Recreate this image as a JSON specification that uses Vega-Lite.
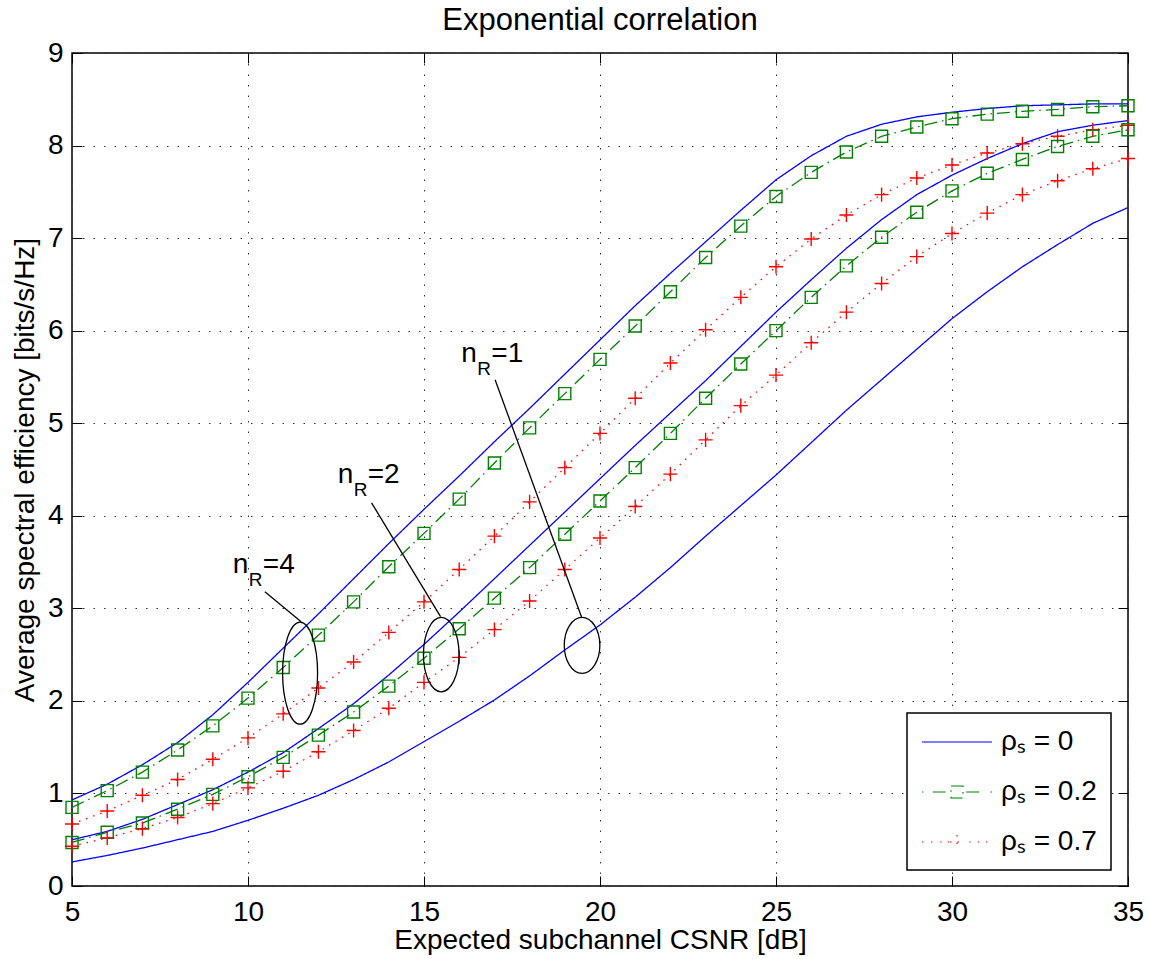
{
  "$schema": "https://vega.github.io/schema/vega-lite/v6.json",
  "width": 1056,
  "height": 833,
  "autosize": {"type": "none"},
  "padding": {"left": 72, "top": 53, "right": 21, "bottom": 73},
  "background": "white",
  "title": {"text": "Exponential correlation", "fontSize": 31, "font": "Liberation Sans", "fontWeight": "normal", "color": "black", "anchor": "middle", "baseline": "alphabetic", "offset": -22},
  "config": {
    "view": {"stroke": "black", "strokeWidth": 1.5},
    "font": "Liberation Sans",
    "axis": {"labelFont": "Liberation Sans", "titleFont": "Liberation Sans", "labelColor": "black", "titleColor": "black", "tickColor": "black", "domain": false},
    "legend": {"strokeColor": "black", "strokeWidth": 1.5, "fillColor": "white"}
  },
  "datasets": {
    "curves": [
      {"snr":5,"se":0.93,"nR":4,"rho":"0"},{"snr":6,"se":1.10,"nR":4,"rho":"0"},{"snr":7,"se":1.31,"nR":4,"rho":"0"},{"snr":8,"se":1.55,"nR":4,"rho":"0"},{"snr":9,"se":1.85,"nR":4,"rho":"0"},{"snr":10,"se":2.20,"nR":4,"rho":"0"},{"snr":11,"se":2.57,"nR":4,"rho":"0"},{"snr":12,"se":2.94,"nR":4,"rho":"0"},{"snr":13,"se":3.32,"nR":4,"rho":"0"},{"snr":14,"se":3.70,"nR":4,"rho":"0"},{"snr":15,"se":4.07,"nR":4,"rho":"0"},{"snr":16,"se":4.43,"nR":4,"rho":"0"},{"snr":17,"se":4.80,"nR":4,"rho":"0"},{"snr":18,"se":5.16,"nR":4,"rho":"0"},{"snr":19,"se":5.53,"nR":4,"rho":"0"},{"snr":20,"se":5.90,"nR":4,"rho":"0"},{"snr":21,"se":6.27,"nR":4,"rho":"0"},{"snr":22,"se":6.62,"nR":4,"rho":"0"},{"snr":23,"se":6.96,"nR":4,"rho":"0"},{"snr":24,"se":7.30,"nR":4,"rho":"0"},{"snr":25,"se":7.63,"nR":4,"rho":"0"},{"snr":26,"se":7.89,"nR":4,"rho":"0"},{"snr":27,"se":8.10,"nR":4,"rho":"0"},{"snr":28,"se":8.23,"nR":4,"rho":"0"},{"snr":29,"se":8.31,"nR":4,"rho":"0"},{"snr":30,"se":8.36,"nR":4,"rho":"0"},{"snr":31,"se":8.40,"nR":4,"rho":"0"},{"snr":32,"se":8.43,"nR":4,"rho":"0"},{"snr":33,"se":8.44,"nR":4,"rho":"0"},{"snr":34,"se":8.45,"nR":4,"rho":"0"},{"snr":35,"se":8.45,"nR":4,"rho":"0"},
      {"snr":5,"se":0.85,"nR":4,"rho":"0.2"},{"snr":6,"se":1.03,"nR":4,"rho":"0.2"},{"snr":7,"se":1.23,"nR":4,"rho":"0.2"},{"snr":8,"se":1.47,"nR":4,"rho":"0.2"},{"snr":9,"se":1.73,"nR":4,"rho":"0.2"},{"snr":10,"se":2.03,"nR":4,"rho":"0.2"},{"snr":11,"se":2.36,"nR":4,"rho":"0.2"},{"snr":12,"se":2.71,"nR":4,"rho":"0.2"},{"snr":13,"se":3.07,"nR":4,"rho":"0.2"},{"snr":14,"se":3.45,"nR":4,"rho":"0.2"},{"snr":15,"se":3.81,"nR":4,"rho":"0.2"},{"snr":16,"se":4.18,"nR":4,"rho":"0.2"},{"snr":17,"se":4.57,"nR":4,"rho":"0.2"},{"snr":18,"se":4.95,"nR":4,"rho":"0.2"},{"snr":19,"se":5.32,"nR":4,"rho":"0.2"},{"snr":20,"se":5.69,"nR":4,"rho":"0.2"},{"snr":21,"se":6.05,"nR":4,"rho":"0.2"},{"snr":22,"se":6.42,"nR":4,"rho":"0.2"},{"snr":23,"se":6.79,"nR":4,"rho":"0.2"},{"snr":24,"se":7.13,"nR":4,"rho":"0.2"},{"snr":25,"se":7.45,"nR":4,"rho":"0.2"},{"snr":26,"se":7.71,"nR":4,"rho":"0.2"},{"snr":27,"se":7.93,"nR":4,"rho":"0.2"},{"snr":28,"se":8.10,"nR":4,"rho":"0.2"},{"snr":29,"se":8.20,"nR":4,"rho":"0.2"},{"snr":30,"se":8.29,"nR":4,"rho":"0.2"},{"snr":31,"se":8.34,"nR":4,"rho":"0.2"},{"snr":32,"se":8.37,"nR":4,"rho":"0.2"},{"snr":33,"se":8.39,"nR":4,"rho":"0.2"},{"snr":34,"se":8.42,"nR":4,"rho":"0.2"},{"snr":35,"se":8.43,"nR":4,"rho":"0.2"},
      {"snr":5,"se":0.67,"nR":4,"rho":"0.7"},{"snr":6,"se":0.81,"nR":4,"rho":"0.7"},{"snr":7,"se":0.98,"nR":4,"rho":"0.7"},{"snr":8,"se":1.15,"nR":4,"rho":"0.7"},{"snr":9,"se":1.37,"nR":4,"rho":"0.7"},{"snr":10,"se":1.60,"nR":4,"rho":"0.7"},{"snr":11,"se":1.86,"nR":4,"rho":"0.7"},{"snr":12,"se":2.14,"nR":4,"rho":"0.7"},{"snr":13,"se":2.42,"nR":4,"rho":"0.7"},{"snr":14,"se":2.74,"nR":4,"rho":"0.7"},{"snr":15,"se":3.07,"nR":4,"rho":"0.7"},{"snr":16,"se":3.42,"nR":4,"rho":"0.7"},{"snr":17,"se":3.78,"nR":4,"rho":"0.7"},{"snr":18,"se":4.15,"nR":4,"rho":"0.7"},{"snr":19,"se":4.52,"nR":4,"rho":"0.7"},{"snr":20,"se":4.89,"nR":4,"rho":"0.7"},{"snr":21,"se":5.27,"nR":4,"rho":"0.7"},{"snr":22,"se":5.65,"nR":4,"rho":"0.7"},{"snr":23,"se":6.01,"nR":4,"rho":"0.7"},{"snr":24,"se":6.36,"nR":4,"rho":"0.7"},{"snr":25,"se":6.69,"nR":4,"rho":"0.7"},{"snr":26,"se":6.99,"nR":4,"rho":"0.7"},{"snr":27,"se":7.25,"nR":4,"rho":"0.7"},{"snr":28,"se":7.47,"nR":4,"rho":"0.7"},{"snr":29,"se":7.65,"nR":4,"rho":"0.7"},{"snr":30,"se":7.79,"nR":4,"rho":"0.7"},{"snr":31,"se":7.92,"nR":4,"rho":"0.7"},{"snr":32,"se":8.02,"nR":4,"rho":"0.7"},{"snr":33,"se":8.10,"nR":4,"rho":"0.7"},{"snr":34,"se":8.17,"nR":4,"rho":"0.7"},{"snr":35,"se":8.22,"nR":4,"rho":"0.7"},
      {"snr":5,"se":0.50,"nR":2,"rho":"0"},{"snr":6,"se":0.59,"nR":2,"rho":"0"},{"snr":7,"se":0.72,"nR":2,"rho":"0"},{"snr":8,"se":0.88,"nR":2,"rho":"0"},{"snr":9,"se":1.04,"nR":2,"rho":"0"},{"snr":10,"se":1.23,"nR":2,"rho":"0"},{"snr":11,"se":1.44,"nR":2,"rho":"0"},{"snr":12,"se":1.70,"nR":2,"rho":"0"},{"snr":13,"se":1.97,"nR":2,"rho":"0"},{"snr":14,"se":2.28,"nR":2,"rho":"0"},{"snr":15,"se":2.61,"nR":2,"rho":"0"},{"snr":16,"se":2.96,"nR":2,"rho":"0"},{"snr":17,"se":3.32,"nR":2,"rho":"0"},{"snr":18,"se":3.68,"nR":2,"rho":"0"},{"snr":19,"se":4.04,"nR":2,"rho":"0"},{"snr":20,"se":4.40,"nR":2,"rho":"0"},{"snr":21,"se":4.76,"nR":2,"rho":"0"},{"snr":22,"se":5.11,"nR":2,"rho":"0"},{"snr":23,"se":5.46,"nR":2,"rho":"0"},{"snr":24,"se":5.83,"nR":2,"rho":"0"},{"snr":25,"se":6.20,"nR":2,"rho":"0"},{"snr":26,"se":6.55,"nR":2,"rho":"0"},{"snr":27,"se":6.89,"nR":2,"rho":"0"},{"snr":28,"se":7.20,"nR":2,"rho":"0"},{"snr":29,"se":7.47,"nR":2,"rho":"0"},{"snr":30,"se":7.68,"nR":2,"rho":"0"},{"snr":31,"se":7.86,"nR":2,"rho":"0"},{"snr":32,"se":8.02,"nR":2,"rho":"0"},{"snr":33,"se":8.15,"nR":2,"rho":"0"},{"snr":34,"se":8.22,"nR":2,"rho":"0"},{"snr":35,"se":8.27,"nR":2,"rho":"0"},
      {"snr":5,"se":0.47,"nR":2,"rho":"0.2"},{"snr":6,"se":0.58,"nR":2,"rho":"0.2"},{"snr":7,"se":0.68,"nR":2,"rho":"0.2"},{"snr":8,"se":0.83,"nR":2,"rho":"0.2"},{"snr":9,"se":0.99,"nR":2,"rho":"0.2"},{"snr":10,"se":1.18,"nR":2,"rho":"0.2"},{"snr":11,"se":1.39,"nR":2,"rho":"0.2"},{"snr":12,"se":1.63,"nR":2,"rho":"0.2"},{"snr":13,"se":1.88,"nR":2,"rho":"0.2"},{"snr":14,"se":2.16,"nR":2,"rho":"0.2"},{"snr":15,"se":2.46,"nR":2,"rho":"0.2"},{"snr":16,"se":2.78,"nR":2,"rho":"0.2"},{"snr":17,"se":3.11,"nR":2,"rho":"0.2"},{"snr":18,"se":3.44,"nR":2,"rho":"0.2"},{"snr":19,"se":3.80,"nR":2,"rho":"0.2"},{"snr":20,"se":4.16,"nR":2,"rho":"0.2"},{"snr":21,"se":4.52,"nR":2,"rho":"0.2"},{"snr":22,"se":4.89,"nR":2,"rho":"0.2"},{"snr":23,"se":5.27,"nR":2,"rho":"0.2"},{"snr":24,"se":5.64,"nR":2,"rho":"0.2"},{"snr":25,"se":6.00,"nR":2,"rho":"0.2"},{"snr":26,"se":6.36,"nR":2,"rho":"0.2"},{"snr":27,"se":6.70,"nR":2,"rho":"0.2"},{"snr":28,"se":7.01,"nR":2,"rho":"0.2"},{"snr":29,"se":7.28,"nR":2,"rho":"0.2"},{"snr":30,"se":7.51,"nR":2,"rho":"0.2"},{"snr":31,"se":7.70,"nR":2,"rho":"0.2"},{"snr":32,"se":7.85,"nR":2,"rho":"0.2"},{"snr":33,"se":7.99,"nR":2,"rho":"0.2"},{"snr":34,"se":8.10,"nR":2,"rho":"0.2"},{"snr":35,"se":8.17,"nR":2,"rho":"0.2"},
      {"snr":5,"se":0.43,"nR":2,"rho":"0.7"},{"snr":6,"se":0.52,"nR":2,"rho":"0.7"},{"snr":7,"se":0.62,"nR":2,"rho":"0.7"},{"snr":8,"se":0.74,"nR":2,"rho":"0.7"},{"snr":9,"se":0.89,"nR":2,"rho":"0.7"},{"snr":10,"se":1.06,"nR":2,"rho":"0.7"},{"snr":11,"se":1.24,"nR":2,"rho":"0.7"},{"snr":12,"se":1.45,"nR":2,"rho":"0.7"},{"snr":13,"se":1.68,"nR":2,"rho":"0.7"},{"snr":14,"se":1.92,"nR":2,"rho":"0.7"},{"snr":15,"se":2.20,"nR":2,"rho":"0.7"},{"snr":16,"se":2.47,"nR":2,"rho":"0.7"},{"snr":17,"se":2.77,"nR":2,"rho":"0.7"},{"snr":18,"se":3.08,"nR":2,"rho":"0.7"},{"snr":19,"se":3.42,"nR":2,"rho":"0.7"},{"snr":20,"se":3.76,"nR":2,"rho":"0.7"},{"snr":21,"se":4.10,"nR":2,"rho":"0.7"},{"snr":22,"se":4.45,"nR":2,"rho":"0.7"},{"snr":23,"se":4.82,"nR":2,"rho":"0.7"},{"snr":24,"se":5.19,"nR":2,"rho":"0.7"},{"snr":25,"se":5.52,"nR":2,"rho":"0.7"},{"snr":26,"se":5.87,"nR":2,"rho":"0.7"},{"snr":27,"se":6.20,"nR":2,"rho":"0.7"},{"snr":28,"se":6.51,"nR":2,"rho":"0.7"},{"snr":29,"se":6.80,"nR":2,"rho":"0.7"},{"snr":30,"se":7.05,"nR":2,"rho":"0.7"},{"snr":31,"se":7.27,"nR":2,"rho":"0.7"},{"snr":32,"se":7.47,"nR":2,"rho":"0.7"},{"snr":33,"se":7.62,"nR":2,"rho":"0.7"},{"snr":34,"se":7.75,"nR":2,"rho":"0.7"},{"snr":35,"se":7.86,"nR":2,"rho":"0.7"},
      {"snr":5,"se":0.26,"nR":1,"rho":"0"},{"snr":6,"se":0.33,"nR":1,"rho":"0"},{"snr":7,"se":0.41,"nR":1,"rho":"0"},{"snr":8,"se":0.50,"nR":1,"rho":"0"},{"snr":9,"se":0.59,"nR":1,"rho":"0"},{"snr":10,"se":0.71,"nR":1,"rho":"0"},{"snr":11,"se":0.84,"nR":1,"rho":"0"},{"snr":12,"se":0.98,"nR":1,"rho":"0"},{"snr":13,"se":1.15,"nR":1,"rho":"0"},{"snr":14,"se":1.34,"nR":1,"rho":"0"},{"snr":15,"se":1.56,"nR":1,"rho":"0"},{"snr":16,"se":1.78,"nR":1,"rho":"0"},{"snr":17,"se":2.01,"nR":1,"rho":"0"},{"snr":18,"se":2.27,"nR":1,"rho":"0"},{"snr":19,"se":2.55,"nR":1,"rho":"0"},{"snr":20,"se":2.82,"nR":1,"rho":"0"},{"snr":21,"se":3.12,"nR":1,"rho":"0"},{"snr":22,"se":3.44,"nR":1,"rho":"0"},{"snr":23,"se":3.78,"nR":1,"rho":"0"},{"snr":24,"se":4.11,"nR":1,"rho":"0"},{"snr":25,"se":4.44,"nR":1,"rho":"0"},{"snr":26,"se":4.79,"nR":1,"rho":"0"},{"snr":27,"se":5.14,"nR":1,"rho":"0"},{"snr":28,"se":5.47,"nR":1,"rho":"0"},{"snr":29,"se":5.80,"nR":1,"rho":"0"},{"snr":30,"se":6.13,"nR":1,"rho":"0"},{"snr":31,"se":6.42,"nR":1,"rho":"0"},{"snr":32,"se":6.69,"nR":1,"rho":"0"},{"snr":33,"se":6.93,"nR":1,"rho":"0"},{"snr":34,"se":7.16,"nR":1,"rho":"0"},{"snr":35,"se":7.33,"nR":1,"rho":"0"}
    ]
  },
  "layer": [
    {
      "data": {"name": "curves"},
      "mark": {"type": "line", "strokeWidth": 1.3},
      "encoding": {
        "x": {"field": "snr", "type": "quantitative", "scale": {"domain": [5, 35], "nice": false, "zero": false},
          "axis": {"orient": "bottom", "values": [5,10,15,20,25,30,35], "title": "Expected subchannel CSNR [dB]", "titleFontSize": 28, "titleFontWeight": "normal", "titlePadding": 0, "labelFontSize": 28, "labelFlush": false, "labelPadding": 22, "tickSize": -10, "tickWidth": 1, "grid": true, "gridDash": [1.5, 9], "gridColor": "#333", "gridWidth": 1}},
        "y": {"field": "se", "type": "quantitative", "scale": {"domain": [0, 9], "nice": false, "zero": false},
          "axis": {"orient": "left", "values": [0,1,2,3,4,5,6,7,8,9], "title": "Average spectral efficiency [bits/s/Hz]", "titleFontSize": 28, "titleFontWeight": "normal", "titlePadding": 8, "labelFontSize": 28, "labelFlush": false, "labelPadding": 19, "tickSize": -10, "tickWidth": 1, "grid": true, "gridDash": [1.5, 9], "gridColor": "#333", "gridWidth": 1}},
        "color": {"field": "rho", "type": "nominal", "scale": {"domain": ["0", "0.2", "0.7"], "range": ["#0000ff", "#008000", "#ff0000"]},
          "legend": {"orient": "none", "legendX": 835, "legendY": 660, "title": null, "direction": "vertical", "padding": 14,
            "labelFont": "Liberation Sans", "labelFontSize": 28, "labelColor": "black", "labelExpr": "'ρₛ = ' + datum.label",
            "symbolSize": 784, "symbolStrokeWidth": 1.2, "labelOffset": 50, "rowPadding": 21,
            "encode": {"symbols": {"update": {
              "shape": {"signal": "datum.value === '0' ? 'M-1,0H4' : (datum.value === '0.2' ? 'M-1,0H-0.9M-0.24,0H0.84M2.16,0H3.3M3.9,0H4M1.07,-0.43H1.93V0.43H1.07Z' : 'M-1,0H-0.9M-0.36,0H-0.26M0.31,0H0.41M0.84,0H0.94M2.38,0H2.48M2.98,0H3.08M3.57,0H3.67M1,0H2M1.5,-0.5V0.5')"},
              "fill": {"value": "transparent"}, "strokeDash": {"value": []}, "opacity": {"value": 1}}}}}},
        "strokeDash": {"field": "rho", "type": "nominal", "scale": {"domain": ["0", "0.2", "0.7"], "range": [[1, 0], [13, 5, 1.5, 5], [1.5, 6]]}, "legend": null},
        "detail": [{"field": "nR"}, {"field": "rho"}]
      }
    },
    {
      "data": {"name": "curves"},
      "transform": [{"filter": "datum.rho != '0'"}],
      "mark": {"type": "point", "filled": false, "opacity": 1, "strokeWidth": 1.4, "size": 144},
      "encoding": {
        "x": {"field": "snr", "type": "quantitative", "scale": {"domain": [5, 35], "nice": false, "zero": false}, "axis": null},
        "y": {"field": "se", "type": "quantitative", "scale": {"domain": [0, 9], "nice": false, "zero": false}, "axis": null},
        "color": {"field": "rho", "type": "nominal", "legend": null},
        "shape": {"field": "rho", "type": "nominal", "scale": {"domain": ["0.2", "0.7"], "range": ["square", "M-1.17,0H1.17M0,-1.17V1.17"]}, "legend": null}
      }
    },
    {
      "data": {"values": [
        {"cx": 11.48, "cy": 2.30, "id": "nR4"},
        {"cx": 15.49, "cy": 2.50, "id": "nR2"},
        {"cx": 19.49, "cy": 2.60, "id": "nR1"}
      ]},
      "mark": {"type": "point", "filled": false, "opacity": 1, "stroke": "black", "strokeWidth": 1.3, "size": 10404},
      "encoding": {
        "x": {"field": "cx", "type": "quantitative", "axis": null},
        "y": {"field": "cy", "type": "quantitative", "axis": null},
        "shape": {"field": "id", "type": "nominal", "scale": {"domain": ["nR4", "nR2", "nR1"], "range": [
          "M0,-1A0.343,1,0,1,1,0,1A0.343,1,0,1,1,0,-1Z",
          "M0,-0.729A0.349,0.729,0,1,1,0,0.729A0.349,0.729,0,1,1,0,-0.729Z",
          "M0,-0.549A0.349,0.549,0,1,1,0,0.549A0.349,0.549,0,1,1,0,-0.549Z"]}, "legend": null}
      }
    },
    {
      "data": {"values": [
        {"x1": 10.48, "y1": 3.18, "x2": 11.51, "y2": 2.855},
        {"x1": 13.51, "y1": 4.14, "x2": 15.47, "y2": 2.91},
        {"x1": 17.02, "y1": 5.47, "x2": 19.48, "y2": 2.90}
      ]},
      "mark": {"type": "rule", "color": "black", "strokeWidth": 1.3},
      "encoding": {
        "x": {"field": "x1", "type": "quantitative",
          "axis": {"orient": "top", "values": [5,10,15,20,25,30,35], "labels": false, "title": null, "grid": false, "tickSize": -10, "tickWidth": 1}},
        "y": {"field": "y1", "type": "quantitative",
          "axis": {"orient": "right", "values": [0,1,2,3,4,5,6,7,8,9], "labels": false, "title": null, "grid": false, "tickSize": -10, "tickWidth": 1}},
        "x2": {"field": "x2"},
        "y2": {"field": "y2"}
      }
    },
    {
      "data": {"values": [
        {"tx": 9.57, "ty": 3.378, "eq": "=4"},
        {"tx": 12.55, "ty": 4.351, "eq": "=2"},
        {"tx": 16.06, "ty": 5.665, "eq": "=1"}
      ]},
      "layer": [
        {"mark": {"type": "text", "text": "n", "align": "left", "baseline": "alphabetic", "fontSize": 28, "font": "Liberation Sans", "color": "black"},
         "encoding": {"x": {"field": "tx", "type": "quantitative", "axis": null}, "y": {"field": "ty", "type": "quantitative", "axis": null}}},
        {"mark": {"type": "text", "text": "R", "align": "left", "baseline": "alphabetic", "fontSize": 19, "font": "Liberation Sans", "color": "black", "dx": 16, "dy": 13},
         "encoding": {"x": {"field": "tx", "type": "quantitative", "axis": null}, "y": {"field": "ty", "type": "quantitative", "axis": null}}},
        {"mark": {"type": "text", "align": "left", "baseline": "alphabetic", "fontSize": 28, "font": "Liberation Sans", "color": "black", "dx": 30},
         "encoding": {"x": {"field": "tx", "type": "quantitative", "axis": null}, "y": {"field": "ty", "type": "quantitative", "axis": null}, "text": {"field": "eq"}}}
      ]
    }
  ],
  "resolve": {"scale": {"shape": "independent"}, "axis": {"x": "independent", "y": "independent"}}
}
